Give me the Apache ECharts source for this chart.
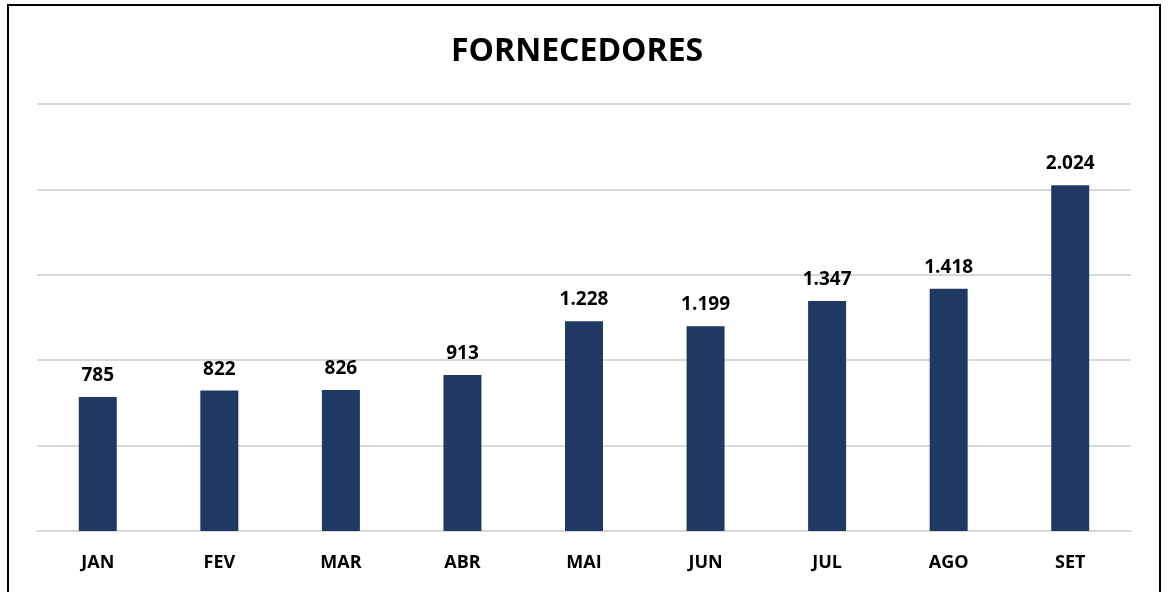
<!DOCTYPE html>
<html>
<head>
<meta charset="utf-8">
<script src="https://cdn.jsdelivr.net/npm/echarts@6/dist/echarts.min.js"></script>
<style>
  html, body { margin: 0; padding: 0; background: #fff; }
  #chart { width: 1168px; height: 592px; }
</style>
</head>
<body>
<div id="chart"></div>
<script>
// dados do gráfico
var meses = ['JAN', 'FEV', 'MAR', 'ABR', 'MAI', 'JUN', 'JUL', 'AGO', 'SET']
var fornecedores = [785, 822, 826, 913, 1228, 1199, 1347, 1418, 2024]

var fonte = '"Open Sans", "Liberation Sans", sans-serif'

var chart = echarts.init(document.getElementById('chart'))
chart.setOption({
  animation: false,
  title: {
    text: 'FORNECEDORES',
    left: 446,
    top: 31,
    textStyle: { fontFamily: fonte, fontSize: 32, fontWeight: 'bold', color: '#000' }
  },
  graphic: [{
    type: 'rect',
    shape: { x: 8, y: 5, width: 1152, height: 600 },
    style: { fill: 'none', stroke: '#000', lineWidth: 2 },
    silent: true
  }],
  grid: { left: 37, right: 37, top: 104, bottom: 61, containLabel: false },
  xAxis: {
    type: 'category',
    data: meses,
    axisLine: { lineStyle: { color: '#d9d9d9', width: 2 } },
    axisTick: { show: false },
    axisLabel: { fontFamily: fonte, fontSize: 18, fontWeight: 'bold', color: '#000', margin: 23 }
  },
  yAxis: {
    type: 'value',
    min: 0,
    max: 2500,
    interval: 500,
    axisLabel: { show: false },
    axisLine: { show: false },
    axisTick: { show: false },
    splitLine: { lineStyle: { color: '#d9d9d9', width: 2 } }
  },
  series: [{
    type: 'bar',
    data: fornecedores,
    barWidth: 38,
    itemStyle: { color: '#203864' },
    label: {
      show: true,
      position: 'top',
      distance: 12,
      fontFamily: fonte,
      fontSize: 19,
      fontWeight: 'bold',
      color: '#000',
      formatter: function (p) {
        return p.value.toLocaleString('pt-BR')
      }
    }
  }]
})
</script>
</body>
</html>
